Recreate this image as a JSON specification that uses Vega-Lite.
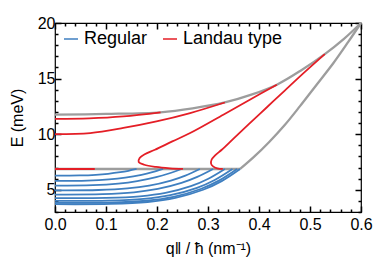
{
  "$schema": "https://vega.github.io/schema/vega-lite/v6.json",
  "width": 306,
  "height": 189,
  "autosize": "none",
  "padding": {"left": 55, "top": 23, "right": 13, "bottom": 56},
  "config": {
    "view": {"stroke": "black", "strokeWidth": 1.2},
    "font": "Liberation Sans",
    "axis": {"domain": false, "grid": false, "labelColor": "black", "titleColor": "black", "labelFont": "Liberation Sans", "titleFont": "Liberation Sans", "labelFontSize": 16, "titleFontSize": 16, "titleFontWeight": "normal", "labelFlush": false, "labelOverlap": false}
  },
  "data": {"values": [
    {"c":"B1","k":"Regular","i":0,"q":0,"E":6.27},{"c":"B1","k":"Regular","i":1,"q":0.048,"E":6.286},{"c":"B1","k":"Regular","i":2,"q":0.08,"E":6.345},{"c":"B1","k":"Regular","i":3,"q":0.104,"E":6.435},{"c":"B1","k":"Regular","i":4,"q":0.128,"E":6.577},{"c":"B1","k":"Regular","i":5,"q":0.144,"E":6.707},{"c":"B1","k":"Regular","i":6,"q":0.16,"E":6.87},
    {"c":"B2","k":"Regular","i":0,"q":0,"E":5.8},{"c":"B2","k":"Regular","i":1,"q":0.0636,"E":5.829},{"c":"B2","k":"Regular","i":2,"q":0.106,"E":5.934},{"c":"B2","k":"Regular","i":3,"q":0.1378,"E":6.094},{"c":"B2","k":"Regular","i":4,"q":0.1696,"E":6.348},{"c":"B2","k":"Regular","i":5,"q":0.1908,"E":6.58},{"c":"B2","k":"Regular","i":6,"q":0.212,"E":6.87},
    {"c":"B3","k":"Regular","i":0,"q":0,"E":5.37},{"c":"B3","k":"Regular","i":1,"q":0.0744,"E":5.41},{"c":"B3","k":"Regular","i":2,"q":0.124,"E":5.558},{"c":"B3","k":"Regular","i":3,"q":0.1612,"E":5.783},{"c":"B3","k":"Regular","i":4,"q":0.1984,"E":6.138},{"c":"B3","k":"Regular","i":5,"q":0.2232,"E":6.464},{"c":"B3","k":"Regular","i":6,"q":0.248,"E":6.87},
    {"c":"B4","k":"Regular","i":0,"q":0,"E":4.95},{"c":"B4","k":"Regular","i":1,"q":0.0852,"E":4.978},{"c":"B4","k":"Regular","i":2,"q":0.142,"E":5.12},{"c":"B4","k":"Regular","i":3,"q":0.1846,"E":5.374},{"c":"B4","k":"Regular","i":4,"q":0.2272,"E":5.829},{"c":"B4","k":"Regular","i":5,"q":0.2556,"E":6.279},{"c":"B4","k":"Regular","i":6,"q":0.284,"E":6.87},
    {"c":"B5","k":"Regular","i":0,"q":0,"E":4.57},{"c":"B5","k":"Regular","i":1,"q":0.093,"E":4.604},{"c":"B5","k":"Regular","i":2,"q":0.155,"E":4.773},{"c":"B5","k":"Regular","i":3,"q":0.2015,"E":5.078},{"c":"B5","k":"Regular","i":4,"q":0.248,"E":5.623},{"c":"B5","k":"Regular","i":5,"q":0.279,"E":6.162},{"c":"B5","k":"Regular","i":6,"q":0.31,"E":6.87},
    {"c":"B6","k":"Regular","i":0,"q":0,"E":4.25},{"c":"B6","k":"Regular","i":1,"q":0.0999,"E":4.271},{"c":"B6","k":"Regular","i":2,"q":0.1665,"E":4.414},{"c":"B6","k":"Regular","i":3,"q":0.2165,"E":4.719},{"c":"B6","k":"Regular","i":4,"q":0.2664,"E":5.324},{"c":"B6","k":"Regular","i":5,"q":0.2997,"E":5.969},{"c":"B6","k":"Regular","i":6,"q":0.333,"E":6.87},
    {"c":"B7","k":"Regular","i":0,"q":0,"E":4.0},{"c":"B7","k":"Regular","i":1,"q":0.1044,"E":4.023},{"c":"B7","k":"Regular","i":2,"q":0.174,"E":4.179},{"c":"B7","k":"Regular","i":3,"q":0.2262,"E":4.514},{"c":"B7","k":"Regular","i":4,"q":0.2784,"E":5.177},{"c":"B7","k":"Regular","i":5,"q":0.3132,"E":5.883},{"c":"B7","k":"Regular","i":6,"q":0.348,"E":6.87},
    {"c":"B8","k":"Regular","i":0,"q":0,"E":3.82},{"c":"B8","k":"Regular","i":1,"q":0.1071,"E":3.845},{"c":"B8","k":"Regular","i":2,"q":0.1785,"E":4.011},{"c":"B8","k":"Regular","i":3,"q":0.2321,"E":4.366},{"c":"B8","k":"Regular","i":4,"q":0.2856,"E":5.071},{"c":"B8","k":"Regular","i":5,"q":0.3213,"E":5.821},{"c":"B8","k":"Regular","i":6,"q":0.357,"E":6.87},
    {"c":"B9","k":"Regular","i":0,"q":0,"E":3.7},{"c":"B9","k":"Regular","i":1,"q":0.1089,"E":3.726},{"c":"B9","k":"Regular","i":2,"q":0.1815,"E":3.898},{"c":"B9","k":"Regular","i":3,"q":0.236,"E":4.267},{"c":"B9","k":"Regular","i":4,"q":0.2904,"E":5.0},{"c":"B9","k":"Regular","i":5,"q":0.3267,"E":5.78},{"c":"B9","k":"Regular","i":6,"q":0.363,"E":6.87},
    {"c":"GT","k":"bound","i":0,"q":0,"E":11.76},{"c":"GT","k":"bound","i":1,"q":0.1,"E":11.82},{"c":"GT","k":"bound","i":2,"q":0.207,"E":11.97},{"c":"GT","k":"bound","i":3,"q":0.27,"E":12.32},{"c":"GT","k":"bound","i":4,"q":0.333,"E":12.85},{"c":"GT","k":"bound","i":5,"q":0.385,"E":13.55},{"c":"GT","k":"bound","i":6,"q":0.435,"E":14.45},{"c":"GT","k":"bound","i":7,"q":0.483,"E":15.75},{"c":"GT","k":"bound","i":8,"q":0.529,"E":17.2},{"c":"GT","k":"bound","i":9,"q":0.566,"E":18.55},{"c":"GT","k":"bound","i":10,"q":0.6,"E":20},
    {"c":"GH","k":"bound","i":0,"q":0,"E":6.87},{"c":"GH","k":"bound","i":1,"q":0.363,"E":6.87},
    {"c":"GL","k":"bound","i":0,"q":0.363,"E":6.87},{"c":"GL","k":"bound","i":1,"q":0.39,"E":7.95},{"c":"GL","k":"bound","i":2,"q":0.42,"E":9.3},{"c":"GL","k":"bound","i":3,"q":0.45,"E":10.8},{"c":"GL","k":"bound","i":4,"q":0.48,"E":12.5},{"c":"GL","k":"bound","i":5,"q":0.513,"E":14.45},{"c":"GL","k":"bound","i":6,"q":0.546,"E":16.4},{"c":"GL","k":"bound","i":7,"q":0.575,"E":18.3},{"c":"GL","k":"bound","i":8,"q":0.6,"E":20},
    {"c":"R0","k":"Landau type","i":0,"q":0,"E":6.87},{"c":"R0","k":"Landau type","i":1,"q":0.078,"E":6.87},
    {"c":"R1","k":"Landau type","i":0,"q":0,"E":11.37},{"c":"R1","k":"Landau type","i":1,"q":0.067,"E":11.42},{"c":"R1","k":"Landau type","i":2,"q":0.134,"E":11.6},{"c":"R1","k":"Landau type","i":3,"q":0.207,"E":11.97},
    {"c":"R2","k":"Landau type","i":0,"q":0,"E":10.0},{"c":"R2","k":"Landau type","i":1,"q":0.069,"E":10.1},{"c":"R2","k":"Landau type","i":2,"q":0.134,"E":10.56},{"c":"R2","k":"Landau type","i":3,"q":0.199,"E":11.15},{"c":"R2","k":"Landau type","i":4,"q":0.265,"E":11.9},{"c":"R2","k":"Landau type","i":5,"q":0.333,"E":12.85},
    {"c":"R3","k":"Landau type","i":0,"q":0.251,"E":6.87},{"c":"R3","k":"Landau type","i":1,"q":0.225,"E":6.93},{"c":"R3","k":"Landau type","i":2,"q":0.198,"E":7.05},{"c":"R3","k":"Landau type","i":3,"q":0.175,"E":7.25},{"c":"R3","k":"Landau type","i":4,"q":0.164,"E":7.5},{"c":"R3","k":"Landau type","i":5,"q":0.166,"E":7.85},{"c":"R3","k":"Landau type","i":6,"q":0.176,"E":8.2},{"c":"R3","k":"Landau type","i":7,"q":0.196,"E":8.6},{"c":"R3","k":"Landau type","i":8,"q":0.23,"E":9.35},{"c":"R3","k":"Landau type","i":9,"q":0.265,"E":10.1},{"c":"R3","k":"Landau type","i":10,"q":0.33,"E":11.75},{"c":"R3","k":"Landau type","i":11,"q":0.382,"E":13.1},{"c":"R3","k":"Landau type","i":12,"q":0.435,"E":14.45},
    {"c":"R4","k":"Landau type","i":0,"q":0.329,"E":6.87},{"c":"R4","k":"Landau type","i":1,"q":0.318,"E":6.93},{"c":"R4","k":"Landau type","i":2,"q":0.31,"E":7.1},{"c":"R4","k":"Landau type","i":3,"q":0.306,"E":7.35},{"c":"R4","k":"Landau type","i":4,"q":0.307,"E":7.7},{"c":"R4","k":"Landau type","i":5,"q":0.314,"E":8.1},{"c":"R4","k":"Landau type","i":6,"q":0.327,"E":8.6},{"c":"R4","k":"Landau type","i":7,"q":0.35,"E":9.6},{"c":"R4","k":"Landau type","i":8,"q":0.38,"E":10.9},{"c":"R4","k":"Landau type","i":9,"q":0.415,"E":12.4},{"c":"R4","k":"Landau type","i":10,"q":0.45,"E":13.9},{"c":"R4","k":"Landau type","i":11,"q":0.49,"E":15.6},{"c":"R4","k":"Landau type","i":12,"q":0.529,"E":17.2}
  ]},
  "layer": [
    {
      "transform": [{"filter": "datum.k == 'bound'"}],
      "mark": {"type": "line", "color": "#9d9d9d", "strokeWidth": 2.3, "interpolate": "catmull-rom"},
      "encoding": {
        "x": {"field": "q", "type": "quantitative", "scale": {"domain": [0, 0.6], "nice": false, "zero": false},
          "axis": {"orient": "bottom", "title": "q‖ / ħ (nm⁻¹)", "titlePadding": 8,
            "values": [0,0.02,0.04,0.06,0.08,0.1,0.12,0.14,0.16,0.18,0.2,0.22,0.24,0.26,0.28,0.3,0.32,0.34,0.36,0.38,0.4,0.42,0.44,0.46,0.48,0.5,0.52,0.54,0.56,0.58,0.6],
            "labelExpr": "abs(datum.value*10 - round(datum.value*10)) < 0.001 ? format(datum.value, '.1f') : ''",
            "ticks": true, "tickSize": -6, "tickWidth": 1.5, "tickColor": "#000000", "tickOpacity": 1,
            "tickDash": {"condition": {"test": "abs(datum.value*10 - round(datum.value*10)) < 0.001", "value": [10, 0]}, "value": [3, 20]},
            "labelPadding": 10}},
        "y": {"field": "E", "type": "quantitative", "scale": {"domain": [3, 20], "nice": false, "zero": false},
          "axis": {"orient": "left", "title": "E (meV)", "titlePadding": 12,
            "values": [3,4,5,6,7,8,9,10,11,12,13,14,15,16,17,18,19,20],
            "labelExpr": "datum.value % 5 == 0 ? format(datum.value, 'd') : ''",
            "ticks": true, "tickSize": -6, "tickWidth": 1.5, "tickColor": "#000000", "tickOpacity": 1,
            "tickDash": {"condition": {"test": "datum.value % 5 == 0", "value": [10, 0]}, "value": [3, 20]},
            "labelPadding": 6}},
        "detail": {"field": "c"},
        "order": {"field": "i"}
      }
    },
    {
      "transform": [{"filter": "datum.k != 'bound'"}],
      "mark": {"type": "line", "strokeWidth": 1.8, "interpolate": "catmull-rom"},
      "encoding": {
        "x": {"field": "q", "type": "quantitative", "scale": {"domain": [0, 0.6], "nice": false, "zero": false},
          "axis": {"orient": "top", "title": null, "labels": false,
            "values": [0,0.02,0.04,0.06,0.08,0.1,0.12,0.14,0.16,0.18,0.2,0.22,0.24,0.26,0.28,0.3,0.32,0.34,0.36,0.38,0.4,0.42,0.44,0.46,0.48,0.5,0.52,0.54,0.56,0.58,0.6],
            "ticks": true, "tickSize": -6, "tickWidth": 1.5, "tickColor": "#000000", "tickOpacity": 1,
            "tickDash": {"condition": {"test": "abs(datum.value*10 - round(datum.value*10)) < 0.001", "value": [10, 0]}, "value": [3, 20]}}},
        "y": {"field": "E", "type": "quantitative", "scale": {"domain": [3, 20], "nice": false, "zero": false},
          "axis": {"orient": "right", "title": null, "labels": false,
            "values": [3,4,5,6,7,8,9,10,11,12,13,14,15,16,17,18,19,20],
            "ticks": true, "tickSize": -6, "tickWidth": 1.5, "tickColor": "#000000", "tickOpacity": 1,
            "tickDash": {"condition": {"test": "datum.value % 5 == 0", "value": [10, 0]}, "value": [3, 20]}}},
        "color": {"field": "k", "type": "nominal",
          "scale": {"domain": ["Regular", "Landau type"], "range": ["#3f7fc0", "#e41e26"]},
          "legend": {"orient": "top-left", "direction": "horizontal", "title": null, "offset": 7, "padding": 0,
            "symbolType": "stroke", "symbolSize": 196, "symbolStrokeWidth": 1.5, "labelFontSize": 18, "labelFont": "Liberation Sans", "labelColor": "black", "labelOffset": 4, "columnPadding": 12}},
        "detail": {"field": "c"},
        "order": {"field": "i"}
      }
    }
  ],
  "resolve": {"axis": {"x": "independent", "y": "independent"}}
}
